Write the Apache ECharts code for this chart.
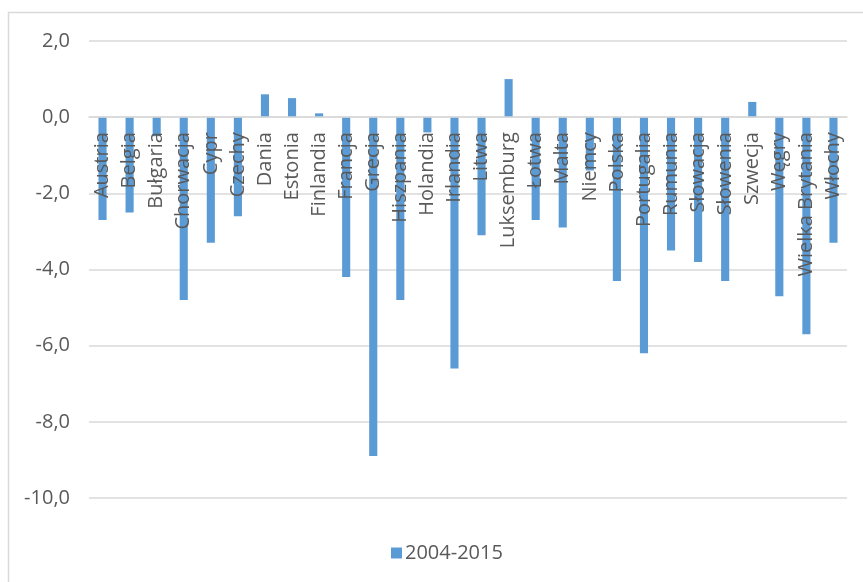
<!DOCTYPE html>
<html>
<head>
<meta charset="utf-8">
<script src="https://cdn.jsdelivr.net/npm/echarts@6/dist/echarts.min.js"></script>
<style>
  html, body { margin: 0; padding: 0; background: #fff; }
  #chart { width: 863px; height: 582px; }
</style>
</head>
<body>
<div id="chart"></div>
<script>
// Countries (EU members) along the category axis
const countries = [
  'Austria', 'Belgia', 'Bułgaria', 'Chorwacja', 'Cypr', 'Czechy', 'Dania',
  'Estonia', 'Finlandia', 'Francja', 'Grecja', 'Hiszpania', 'Holandia',
  'Irlandia', 'Litwa', 'Luksemburg', 'Łotwa', 'Malta', 'Niemcy', 'Polska',
  'Portugalia', 'Rumunia', 'Słowacja', 'Słowenia', 'Szwecja', 'Węgry',
  'Wielka Brytania', 'Włochy'
];

// Average values for the period 2004-2015
const seriesName = '2004-2015';
const values = [
  -2.7, -2.5, -0.5, -4.8, -3.3, -2.6, 0.6,
  0.5, 0.1, -4.2, -8.9, -4.8, -0.4,
  -6.6, -3.1, 1.0, -2.7, -2.9, -1.4, -4.3,
  -6.2, -3.5, -3.8, -4.3, 0.4, -4.7,
  -5.7, -3.3
];

// Value axis range and step
const yMin = -10;
const yMax = 2;
const yStep = 2;

const fontFamily = '"Open Sans", "Liberation Sans", sans-serif';
const textColor = '#595959';
const lineColor = '#d9d9d9';
const barColor = '#5b9bd5';

// Plot area in pixels
const W = 863, H = 582;
const gridLeft = 89, gridRight = 16, gridTop = 41, gridBottom = 84;
const plotHeight = H - gridTop - gridBottom;
// Category axis sits on the zero line: shift it up from the bottom edge
const zeroOffset = -plotHeight * (0 - yMin) / (yMax - yMin);

const chart = echarts.init(document.getElementById('chart'), null, { renderer: 'canvas' });

chart.setOption({
  animation: false,
  backgroundColor: '#ffffff',
  textStyle: { fontFamily: fontFamily },
  graphic: [{
    type: 'rect',
    shape: { x: 8.5, y: 12.5, width: 880, height: 600 },
    style: { fill: 'none', stroke: lineColor, lineWidth: 1.5 },
    silent: true,
    z: -1
  }],
  grid: {
    left: gridLeft, right: gridRight, top: gridTop, bottom: gridBottom,
    containLabel: false,
    outerBoundsMode: 'none'
  },
  legend: {
    data: [seriesName],
    bottom: 19,
    left: 391,
    padding: 0,
    itemWidth: 11,
    itemHeight: 11,
    icon: 'rect',
    itemGap: 4,
    textStyle: { color: textColor, fontSize: 20, fontFamily: fontFamily, padding: [0, 0, 0, -2] }
  },
  xAxis: {
    type: 'category',
    data: countries,
    offset: zeroOffset,
    axisLine: { onZero: false, lineStyle: { color: lineColor, width: 1.5 } },
    axisTick: { show: false },
    axisLabel: {
      interval: 0,
      rotate: 90,
      margin: 15,
      color: textColor,
      fontSize: 20,
      fontFamily: fontFamily
    },
    splitLine: { show: false },
    z: 3
  },
  yAxis: {
    type: 'value',
    min: yMin,
    max: yMax,
    interval: yStep,
    axisLine: { show: false },
    axisTick: { show: false },
    axisLabel: {
      margin: 19,
      color: textColor,
      fontSize: 20,
      fontFamily: fontFamily,
      formatter: v => v.toFixed(1).replace('.', ',')
    },
    splitLine: { lineStyle: { color: lineColor, width: 1.5 } }
  },
  series: [{
    name: seriesName,
    type: 'bar',
    data: values,
    barWidth: '30%',
    itemStyle: { color: barColor },
    z: 1
  }]
});
</script>
</body>
</html>
